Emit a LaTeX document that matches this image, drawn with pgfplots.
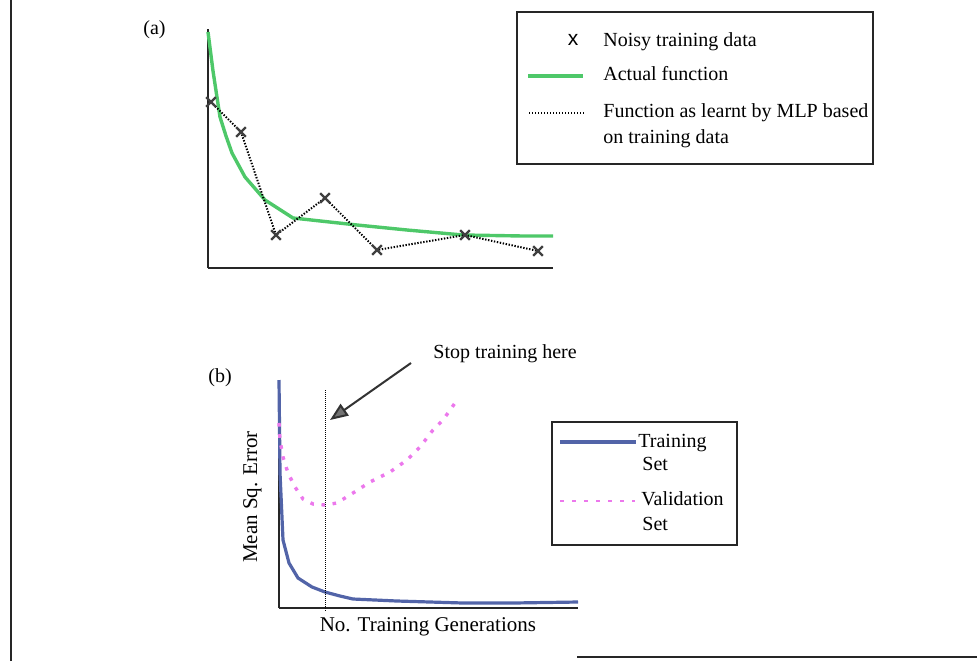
\documentclass[border=0pt]{standalone}
\usepackage{fontspec}
\setmainfont{Liberation Serif}
\setsansfont{Liberation Sans}
\usepackage{pgfplots}
\pgfplotsset{compat=1.18}
\usetikzlibrary{arrows.meta}
\definecolor{fgreen}{RGB}{78,200,105}
\definecolor{tblue}{RGB}{82,100,168}
\definecolor{vpink}{RGB}{236,120,236}

\begin{document}
\begin{tikzpicture}[x=0.5pt,y=0.5pt, font=\fontsize{10}{12}\selectfont]
\useasboundingbox (0,0) rectangle (977,661);
% frame lines of the scanned figure
\draw[line width=1pt, black!85] (11,0) -- (11,661);
\draw[line width=0.8pt, black!85] (577,4) -- (977,4);

% ---------------- panel (a)
\begin{axis}[at={(104pt,196.5pt)}, anchor=south west, x=0.5pt, y=0.5pt,
  xmin=208, xmax=553, ymin=393, ymax=632,
  axis x line=bottom, axis y line=left,
  axis line style={-, line width=0.8pt, black!85},
  ticks=none, clip=false]
\addplot[fgreen, line width=1.7pt] coordinates {
 (208,629) (213,590) (220,544) (226,525) (232,508) (245,484) (265,461)
 (293,443) (357,436) (407,431) (463,426) (523,425) (553,425)};
\addplot[black, line width=1pt, dash pattern=on 0.7pt off 0.8pt] coordinates {
 (211,559) (241,529) (276,426) (325,463) (377,411) (465,426) (538,410)};
\addplot[only marks, mark=x, mark size=3.4pt, mark options={line width=1.1pt, black!75}] coordinates {
 (211,559) (241,529) (276,426) (325,463) (377,411) (465,426) (538,410)};
\end{axis}

% ---------------- panel (b)
\begin{axis}[at={(139.5pt,26.5pt)}, anchor=south west, x=0.5pt, y=0.5pt,
  xmin=279, xmax=578, ymin=53, ymax=281,
  axis x line=bottom, axis y line=left,
  axis line style={-, line width=0.8pt, black!85},
  ticks=none, clip=false,
  xlabel={No. Training Generations}, ylabel={Mean Sq. Error},
  label style={font=\fontsize{10.5}{12}\selectfont},
  xlabel style={at={(axis description cs:0.498,-0.105)}, anchor=base},
  ylabel style={at={(axis description cs:-0.0736,0.487)}, anchor=base}]
\addplot[tblue, line width=1.6pt] coordinates {
 (279,281) (280,188) (283,121) (289,98) (298,83) (312,74) (325,69) (340,65)
 (353,62) (397,60) (463,58) (513,58) (578,59)};
\addplot[vpink, line width=1.7pt, dash pattern=on 1.8pt off 3.8pt] coordinates {
 (279,238) (280,221) (283,204) (288,188) (295,174) (303,162) (313,157) (325,156)
 (337,158) (353,168) (370,179) (390,189) (407,201) (420,214) (433,231) (443,241) (455,258)};
\addplot[black, line width=0.5pt, dash pattern=on 0.5pt off 0.5pt] coordinates {
 (325,271) (325,49)};
\draw[line width=1pt, black!80, -{Triangle[length=9pt,width=7pt,fill=black!55]}]
  (axis cs:411,298) -- (axis cs:330,241);
\end{axis}

% ---------------- texts
\node[anchor=base west, inner sep=0] at (143,627) {(a)};
\node[anchor=base west, inner sep=0] at (208,279) {(b)};
\node[anchor=base west, inner sep=0] at (433,303) {Stop training here};

% legend (a)
\draw[line width=1pt, black!85] (517,497) rectangle (873,649);
\node[anchor=base, inner sep=0, font=\sffamily\fontsize{10.5}{12}\selectfont] at (573,616) {x};
\node[anchor=base west, inner sep=0] at (603,615) {Noisy training data};
\draw[fgreen, line width=1.7pt] (528,585) -- (583,585);
\node[anchor=base west, inner sep=0] at (603,581) {Actual function};
\draw[black, line width=1pt, dash pattern=on 0.7pt off 0.8pt] (529,548) -- (585,548);
\node[anchor=base west, inner sep=0] at (603,544) {Function as learnt by MLP based};
\node[anchor=base west, inner sep=0] at (603,518) {on training data};

% legend (b)
\draw[line width=0.8pt, black!85] (552,116) rectangle (737,239);
\draw[tblue, line width=1.6pt] (560,219) -- (636,219);
\node[anchor=base west, inner sep=0] at (638,214) {Training};
\node[anchor=base west, inner sep=0] at (642,191) {Set};
\draw[vpink, line width=1.3pt, dash pattern=on 2pt off 4pt] (560,160) -- (635,160);
\node[anchor=base west, inner sep=0] at (641,156) {Validation};
\node[anchor=base west, inner sep=0] at (642,131) {Set};
\end{tikzpicture}
\end{document}
